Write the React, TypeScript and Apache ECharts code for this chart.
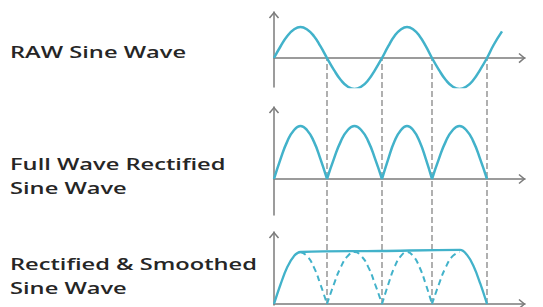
import React, { useEffect, useRef } from 'react';
import * as echarts from 'echarts';

// x positions where the raw sine crosses zero (the dashed guide lines)
const crossings = [0, 53, 108, 158, 213];

const rawSine: [number, number][] = [
  [0, 0], [6.6, 0.38], [13.3, 0.71], [19.9, 0.92], [26.5, 1], [33.1, 0.92], [39.8, 0.71], [46.4, 0.38], [53, 0],
  [59.9, -0.38], [66.8, -0.71], [73.6, -0.92], [80.5, -1], [87.4, -0.92], [94.3, -0.71], [101.1, -0.38], [108, 0],
  [114.3, 0.38], [120.5, 0.71], [126.8, 0.92], [133, 1], [139.3, 0.92], [145.5, 0.71], [151.8, 0.38], [158, 0],
  [164.9, -0.38], [171.8, -0.71], [178.6, -0.92], [185.5, -1], [192.4, -0.92], [199.3, -0.71], [206.1, -0.38], [213, 0],
  [219.6, 0.42], [228, 0.86],
];

const rectified: [number, number | string][] = [
  [0, 0], [6.6, 0.38], [13.3, 0.71], [19.9, 0.92], [26.5, 1], [33.1, 0.92], [39.8, 0.71], [46.4, 0.38], [53, 0],
  [53, '-'],
  [53, 0], [59.9, 0.38], [66.8, 0.71], [73.6, 0.92], [80.5, 1], [87.4, 0.92], [94.3, 0.71], [101.1, 0.38], [108, 0],
  [108, '-'],
  [108, 0], [114.3, 0.38], [120.5, 0.71], [126.8, 0.92], [133, 1], [139.3, 0.92], [145.5, 0.71], [151.8, 0.38], [158, 0],
  [158, '-'],
  [158, 0], [164.9, 0.38], [171.8, 0.71], [178.6, 0.92], [185.5, 1], [192.4, 0.92], [199.3, 0.71], [206.1, 0.38], [213, 0],
];

const smoothed: [number, number][] = [
  [0, 0], [6.6, 0.38], [13.3, 0.71], [19.9, 0.92], [26.5, 1], [106, 1.02], [186, 1.04],
  [192.8, 0.95], [199.5, 0.73], [206.3, 0.39], [213, 0],
];

const ripple: [number, number | string][] = [
  [26.5, 1], [33.1, 0.92], [39.8, 0.71], [46.4, 0.38], [53, 0],
  [53, '-'],
  [53, 0], [59.9, 0.38], [66.8, 0.71], [73.6, 0.92], [80.5, 1], [87.4, 0.92], [94.3, 0.71], [101.1, 0.38], [108, 0],
  [108, '-'],
  [108, 0], [114.3, 0.38], [120.5, 0.71], [126.8, 0.92], [133, 1], [139.3, 0.92], [145.5, 0.71], [151.8, 0.38], [158, 0],
  [158, '-'],
  [158, 0], [164.9, 0.38], [171.8, 0.71], [178.6, 0.92], [185.5, 1],
];

const labelLines = [
  ['RAW Sine Wave'],
  ['Full Wave Rectified', 'Sine Wave'],
  ['Rectified & Smoothed', 'Sine Wave'],
];

const TEAL = '#42b2ca';
const AXIS = '#7b7b7b';
const GUIDE = '#9c9c9c';
const XMAX = 251;
const arrow = 'path://M0,7 L6,0 L12,7 L10.6,8.2 L6,2.6 L1.4,8.2 Z';

function axisLine() {
  return {
    show: true,
    onZero: true,
    symbol: ['none', arrow],
    symbolSize: [11, 7],
    symbolOffset: [0, -3],
    lineStyle: { color: AXIS, width: 1.5 },
  };
}

function xAxis(gridIndex: number, visible = true) {
  return {
    type: 'value',
    gridIndex,
    min: 0,
    max: XMAX,
    axisLine: visible ? axisLine() : { show: false },
    axisTick: { show: false },
    axisLabel: { show: false },
    splitLine: { show: false },
  };
}

function yAxis(gridIndex: number, min: number, max: number, visible = true) {
  return {
    type: 'value',
    gridIndex,
    min,
    max,
    axisLine: visible ? axisLine() : { show: false },
    axisTick: { show: false },
    axisLabel: { show: false },
    splitLine: { show: false },
  };
}

const guideData: [number, number | string][] = [];
crossings.slice(1).forEach((c) => {
  guideData.push([c, 0], [c, 1], [c, '-']);
});

const labelPos = [[52], [164, 187.5], [264, 287.5]];

const option = {
  animation: false,
  backgroundColor: '#ffffff',
  grid: [
    { left: 274, width: XMAX, top: 12, height: 75 },
    { left: 274, width: XMAX, top: 107, height: 108 },
    { left: 274, width: XMAX, top: 232, height: 73 },
    { left: 274, width: XMAX, top: 58, height: 246 },
  ],
  xAxis: [xAxis(0), xAxis(1), xAxis(2), xAxis(3, false)],
  yAxis: [
    yAxis(0, -0.935, 1.484),
    yAxis(1, -0.679, 1.358),
    yAxis(2, -0.019, 1.385),
    yAxis(3, 0, 1, false),
  ],
  series: [
    {
      type: 'line', xAxisIndex: 3, yAxisIndex: 3, data: guideData, showSymbol: false, z: 1,
      lineStyle: { color: GUIDE, width: 1.6, type: [6, 3] },
    },
    {
      type: 'line', xAxisIndex: 0, yAxisIndex: 0, data: rawSine, smooth: true, showSymbol: false, z: 3,
      lineStyle: { color: TEAL, width: 2.5 },
    },
    {
      type: 'line', xAxisIndex: 1, yAxisIndex: 1, data: rectified, smooth: true, showSymbol: false, z: 3,
      lineStyle: { color: TEAL, width: 2.5 },
    },
    {
      type: 'line', xAxisIndex: 2, yAxisIndex: 2, data: smoothed, smooth: 0.4, showSymbol: false, z: 3,
      lineStyle: { color: TEAL, width: 2.3 },
    },
    {
      type: 'line', xAxisIndex: 2, yAxisIndex: 2, data: ripple, smooth: true, showSymbol: false, z: 2,
      lineStyle: { color: TEAL, width: 2, type: [6, 4] },
    },
  ],
  graphic: labelLines.flatMap((lines, i) =>
    lines.map((t, j) => ({
      type: 'text',
      x: 10,
      y: labelPos[i][j],
      scaleX: 1.48,
      style: {
        text: t,
        font: '600 16px "Open Sans"',
        fill: '#262626',
        verticalAlign: 'middle',
      },
    }))
  ),
};

export default function App() {
  const ref = useRef<HTMLDivElement>(null);
  useEffect(() => {
    const chart = echarts.init(ref.current!, null, { renderer: 'svg' });
    chart.setOption(option as any);
    return () => chart.dispose();
  }, []);
  return (
    <div
      ref={ref}
      style={{ position: 'fixed', left: 0, top: 0, width: 543, height: 307 }}
    />
  );
}
